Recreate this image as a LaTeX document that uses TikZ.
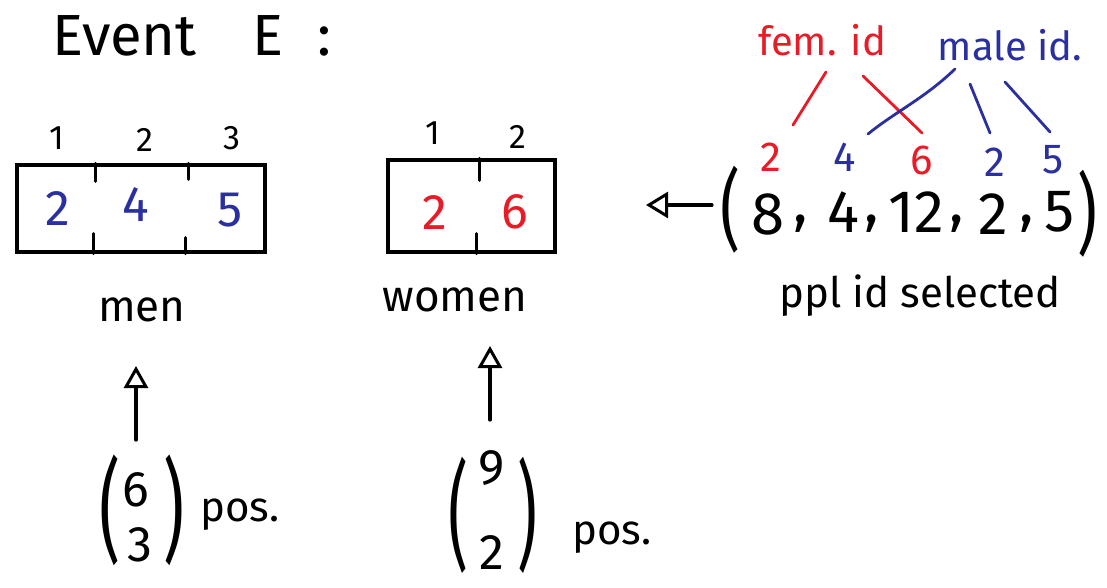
\documentclass[tikz,border=0pt]{standalone}
\usepackage{fontspec}
\setmainfont{Fira Sans}
\usetikzlibrary{arrows.meta,calc}
\definecolor{hred}{RGB}{232,28,38}
\definecolor{hblue}{RGB}{42,48,160}
\newcommand{\fs}[1]{\fontsize{#1}{#1}\selectfont}
\begin{document}
\begin{tikzpicture}[x=1pt,y=-1pt,
  ink/.style={line width=3.2pt,black,line cap=round},
  redink/.style={line width=2.8pt,hred,line cap=round},
  blueink/.style={line width=2.8pt,hblue,line cap=round},
  txt/.style={inner sep=0pt,anchor=center},
  big/.style={txt,font=\fs{50}},
  idx/.style={txt,font=\fs{34}},
  lbl/.style={txt,font=\fs{44}},
  col/.style={txt,font=\fs{42}},
  uparrow/.style={ink,-{Triangle[open,length=22pt,width=24pt,line width=3pt]}},
  leftarrow/.style={ink,-{Triangle[open,length=22pt,width=26pt,line width=3pt]}}
]
\useasboundingbox (0,0) rectangle (1107,588);
\fill[white] (0,0) rectangle (1107,588);

% title
\node[txt,anchor=west,font=\fs{58}] (title) at (52,36) {Event\hspace{56pt}E\hspace{34pt}:};

% men box
\node[draw,ink,minimum width=248pt,minimum height=87pt,inner sep=0pt] (menbox) at (141,208.5) {};
\draw[ink] (menbox.north west) ++(80,0) coordinate (mt1) -- ++(0,18);
\draw[ink] (menbox.north west) ++(173,0) coordinate (mt2) -- ++(0,16);
\draw[ink] (menbox.south west) ++(78,0) coordinate (mb1) -- ++(0,-20);
\draw[ink] (menbox.south west) ++(170,0) coordinate (mb2) -- ++(0,-16);
\node[idx] (m1) at (57,138) {1};
\node[idx] (m2) at (145,140) {2};
\node[idx] (m3) at (232,138) {3};
\node[big,hblue] (mv1) at (58,209) {2};
\node[big,hblue] (mv2) at (136,205) {4};
\node[big,hblue] (mv3) at (230,210) {5};
\node[lbl] (men) at (142,310) {men};

% women box
\node[draw,ink,minimum width=167pt,minimum height=92pt,inner sep=0pt] (wombox) at (471.5,206) {};
\draw[ink] (wombox.north west) ++(93,0) coordinate (wt1) -- ++(0,22);
\draw[ink] (wombox.south west) ++(90,0) coordinate (wb1) -- ++(0,-20);
\node[idx] (w1) at (433,133) {1};
\node[idx] (w2) at (518,137) {2};
\node[big,hred] (wv1) at (435,213) {2};
\node[big,hred] (wv2) at (515,212) {6};
\node[lbl] (women) at (455,300) {women};

% men binomial
\node[txt,font=\fs{112}] (lp1) at (110,510) {\scalebox{0.58}[1]{(}};
\node[big] (n6) at (136,490) {6};
\node[big] (n3) at (140,545) {3};
\node[txt,font=\fs{112}] (rp1) at (174,510) {\scalebox{0.58}[1]{)}};
\node[txt,font=\fs{42},anchor=west] (pos1) at (200,515) {pos.};
\coordinate (mtip) at (136,366);
\coordinate (mtail) at (136,440);
\draw[uparrow] (mtail) -- (mtip);

% women binomial
\node[txt,font=\fs{112}] (lp2) at (458,515) {\scalebox{0.55}[1.05]{(}};
\node[big] (n9) at (492,468) {9};
\node[big] (n2) at (492,553) {2};
\node[txt,font=\fs{112}] (rp2) at (527,515) {\scalebox{0.55}[1.05]{)}};
\node[txt,font=\fs{42},anchor=west] (pos2) at (572,538) {pos.};
\coordinate (wtip) at (490,346);
\coordinate (wtail) at (490,420);
\draw[uparrow] (wtail) -- (wtip);

% tuple
\node[txt,font=\fs{88}] (tlp) at (730,210) {\scalebox{0.7}[1]{(}};
\node[txt,font=\fs{60}] (t8) at (768,214) {8};
\node[txt,font=\fs{60}] (c1) at (801,224) {,};
\node[txt,font=\fs{60}] (t4) at (843,212) {4};
\node[txt,font=\fs{60}] (c2) at (872,224) {,};
\node[txt,font=\fs{60}] (t12) at (916,212) {12};
\node[txt,font=\fs{60}] (c3) at (957,224) {,};
\node[txt,font=\fs{60}] (t2) at (993,214) {2};
\node[txt,font=\fs{60}] (c4) at (1027,224) {,};
\node[txt,font=\fs{60}] (t5) at (1060,212) {5};
\node[txt,font=\fs{88}] (trp) at (1087,214) {\scalebox{0.7}[1]{)}};
\node[txt,font=\fs{42}] (sel) at (920,296) {ppl id selected};
\coordinate (atail) at (712,205);
\coordinate (ahead) at (646,205);
\draw[leftarrow] (atail) -- (ahead);

% ids above tuple
\node[col,hred] (i2r) at (771,157) {2};
\node[col,hblue] (i4b) at (845,157) {4};
\node[col,hred] (i6r) at (922,160) {6};
\node[col,hblue] (i2b) at (995,162) {2};
\node[col,hblue] (i5b) at (1053,160) {5};

\node[txt,font=\fs{40},hred] (fem) at (822,40) {fem. id};
\node[txt,font=\fs{40},hblue] (male) at (1010,45) {male id.};

\coordinate (f1a) at (826,72);  \coordinate (f1b) at (793,125);
\coordinate (f2a) at (863,76);  \coordinate (f2b) at (922,133);
\coordinate (m1a) at (955,69);  \coordinate (m1b) at (868,134);
\coordinate (m2a) at (970,84);  \coordinate (m2b) at (990,133);
\coordinate (m3a) at (1005,82); \coordinate (m3b) at (1050,132);
\draw[redink] (f1a) -- (f1b);
\draw[redink] (f2a) -- (f2b);
\draw[blueink] (m1a) .. controls (925,98) and (895,112) .. (m1b);
\draw[blueink] (m2a) -- (m2b);
\draw[blueink] (m3a) -- (m3b);
\end{tikzpicture}
\end{document}
